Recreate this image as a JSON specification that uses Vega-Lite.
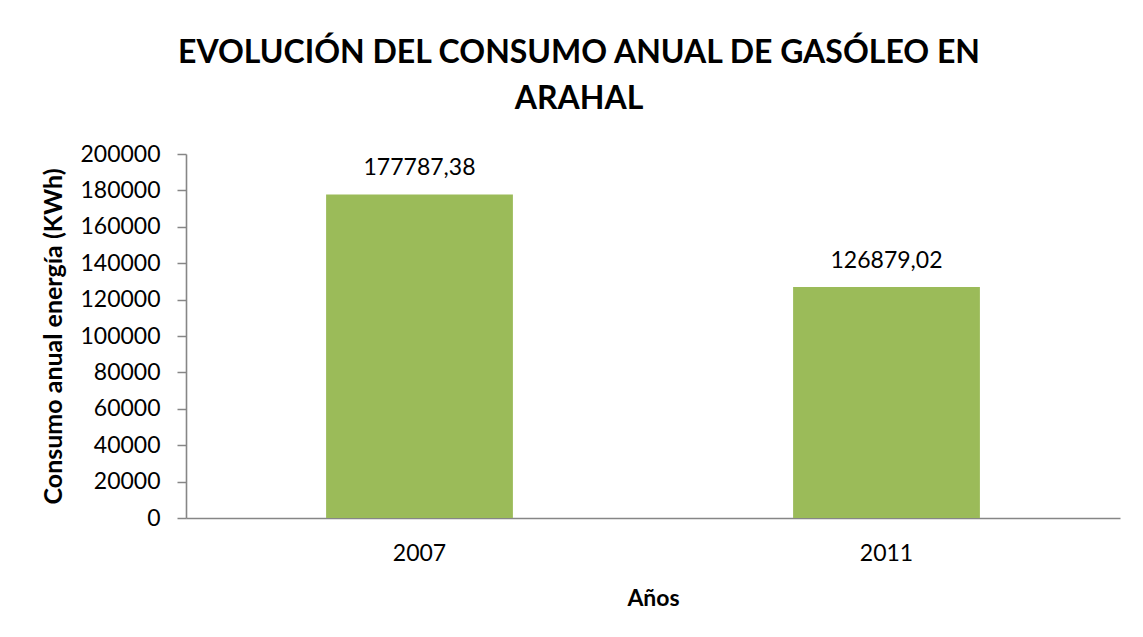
{
  "$schema": "https://vega.github.io/schema/vega-lite/v6.json",
  "autosize": {"type": "none"},
  "width": 934,
  "height": 364,
  "padding": {"left": 186, "top": 154, "right": 23, "bottom": 119},
  "background": "white",
  "title": {
    "text": ["EVOLUCIÓN DEL CONSUMO ANUAL DE GASÓLEO EN", "ARAHAL"],
    "font": "Lato",
    "fontSize": 32,
    "fontWeight": "bold",
    "color": "#000000",
    "anchor": "middle",
    "lineHeight": 46,
    "dx": -74,
    "offset": 27
  },
  "data": {
    "values": [
      {"year": "2007", "value": 177787.38, "label": "177787,38"},
      {"year": "2011", "value": 126879.02, "label": "126879,02"}
    ]
  },
  "encoding": {
    "x": {
      "field": "year",
      "type": "nominal",
      "scale": {"paddingInner": 0.6, "paddingOuter": 0.3},
      "axis": {
        "title": "Años",
        "labelAngle": 0,
        "ticks": false,
        "labelPadding": 24,
        "titlePadding": 22,
        "domainColor": "#868686",
        "domainWidth": 1.6
      }
    },
    "y": {
      "field": "value",
      "type": "quantitative",
      "scale": {"domain": [0, 200000], "nice": false},
      "axis": {
        "title": "Consumo anual energía (KWh)",
        "titleFontSize": 25,
        "values": [0, 20000, 40000, 60000, 80000, 100000, 120000, 140000, 160000, 180000, 200000],
        "format": "d",
        "grid": false,
        "tickSize": 9,
        "tickColor": "#868686",
        "tickWidth": 1.5,
        "labelPadding": 17,
        "titlePadding": 13,
        "domainColor": "#868686",
        "domainWidth": 1.6
      }
    }
  },
  "layer": [
    {"mark": {"type": "bar", "color": "#9BBB59"}},
    {
      "mark": {"type": "text", "baseline": "alphabetic", "dy": -19, "font": "Lato", "fontSize": 23, "color": "#000000"},
      "encoding": {"text": {"field": "label"}}
    }
  ],
  "config": {
    "view": {"stroke": null},
    "axis": {
      "labelFont": "Lato",
      "labelFontSize": 23,
      "labelColor": "#000000",
      "titleFont": "Lato",
      "titleFontSize": 23,
      "titleFontWeight": "bold",
      "titleColor": "#000000"
    }
  }
}
